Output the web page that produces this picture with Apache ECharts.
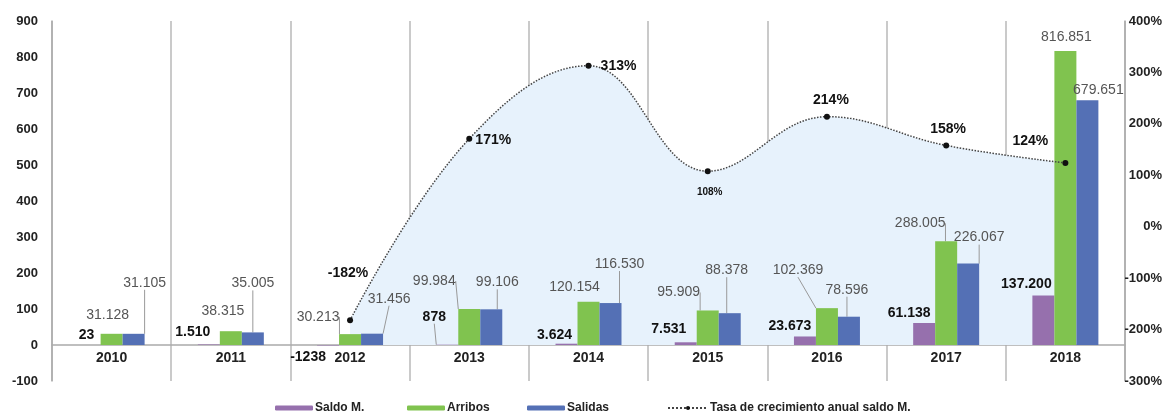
<!DOCTYPE html>
<html>
<head>
<meta charset="utf-8">
<script src="https://cdn.jsdelivr.net/npm/echarts@6/dist/echarts.min.js"></script>
<style>
  html, body { margin: 0; padding: 0; background: #fff; }
  #chart { width: 1165px; height: 416px; }
</style>
</head>
<body>
<div id="chart"></div>
<script>
// datos (miles de personas)
var years = ['2010', '2011', '2012', '2013', '2014', '2015', '2016', '2017', '2018'];
var saldo = [0.023, 1.510, -1.238, 0.878, 3.624, 7.531, 23.673, 61.138, 137.200];
var saldoLabels = ['23', '1.510', '-1238', '878', '3.624', '7.531', '23.673', '61.138', '137.200'];
var arribos = [31.128, 38.315, 30.213, 99.984, 120.154, 95.909, 102.369, 288.005, 816.851];
var salidas = [31.105, 35.005, 31.456, 99.106, 116.530, 88.378, 78.596, 226.067, 679.651];
var tasa = [null, null, -182, 171, 313, 108, 214, 158, 124];
var leftTicks = [-100, 0, 100, 200, 300, 400, 500, 600, 700, 800, 900];
var rightTicks = [-300, -200, -100, 0, 100, 200, 300, 400];
var legendNames = ['Saldo M.', 'Arribos', 'Salidas', 'Tasa de crecimiento anual saldo M.'];

// posiciones de etiquetas (desplazamiento desde el extremo de la barra / punto)
var saldoOff = [[-3, -10], [-16, -12], [-20, 12], [-13, -28], [-12, -9], [-17, -13], [-15, -10], [-15, -10], [-17, -11]];
var saldoLine = [false, false, false, true, false, false, false, false, false];
var arribosOff = [[-4, -19], [-8, -20], [-32, -17], [-35, -28], [-14, -15], [-29, -18], [-29, -38], [-26, -18], [1, -14]];
var arribosLine = [false, false, true, true, false, true, true, true, false];
var salidasOff = [[11, -51], [0, -49], [17, -35], [6, -27], [9, -39], [-3, -43], [-2, -27], [11, -26], [11, -10]];
var salidasLine = [true, true, true, true, true, true, true, true, false];
var tasaOff = [null, null, [-2, -47], [24, 1], [30, 0], [2, 21], [4, -17], [2, -16], [-35, -22]];
var legendLeft = [275, 407, 527, 667];

var FONT = "'Liberation Sans', Arial, sans-serif";
var colors = ['#9670ad', '#80c34f', '#5470b5'];

function items(vals, lines) {
    return vals.map(function (v, i) {
        return { value: v, labelLine: { show: lines[i] } };
    });
}

function barLayout(offs, vals) {
    return function (p) {
        var r = p.rect, o = offs[p.dataIndex];
        var endY = vals[p.dataIndex] >= 0 ? r.y : r.y + r.height;
        return {
            x: r.x + r.width / 2 + o[0],
            y: endY + o[1],
            align: 'center',
            verticalAlign: 'middle'
        };
    };
}

var legends = legendNames.map(function (n, i) {
    return {
        data: [n],
        left: legendLeft[i],
        top: 402,
        padding: 0,
        itemWidth: i === 3 ? 40 : 38,
        itemHeight: 5,
        textStyle: { fontFamily: FONT, fontWeight: 'bold', fontSize: 12, color: '#222', padding: [0, 0, 0, -3] }
    };
});

var myChart = echarts.init(document.getElementById('chart'));
myChart.setOption({
    animation: false,
    textStyle: { fontFamily: FONT },
    grid: { left: 52, right: 38, top: 21, bottom: 35 },
    legend: legends,
    xAxis: {
        type: 'category',
        data: years,
        axisLine: { onZero: true, lineStyle: { color: '#aaa', width: 1.5 } },
        axisTick: { show: false },
        // las etiquetas van justo debajo de la línea del cero
        axisLabel: { margin: -30, fontFamily: FONT, fontWeight: 'bold', fontSize: 14, color: '#222' },
        splitLine: { show: true, lineStyle: { color: '#b8b8b8', width: 1.5 } }
    },
    yAxis: [
        {
            type: 'value',
            min: leftTicks[0],
            max: leftTicks[leftTicks.length - 1],
            interval: 100,
            axisLine: { show: true, onZero: false, lineStyle: { color: '#aaa', width: 1.5 } },
            axisTick: { show: false },
            splitLine: { show: false },
            axisLabel: { margin: 14, fontFamily: FONT, fontWeight: 'bold', fontSize: 13, color: '#222' }
        },
        {
            type: 'value',
            min: rightTicks[0],
            max: rightTicks[rightTicks.length - 1],
            interval: 100,
            position: 'right',
            axisLine: { show: true, onZero: false, lineStyle: { color: '#aaa', width: 1.5 } },
            axisTick: { show: false },
            splitLine: { show: false },
            axisLabel: {
                margin: 37, align: 'right', formatter: '{value}%',
                fontFamily: FONT, fontWeight: 'bold', fontSize: 13, color: '#222'
            }
        }
    ],
    series: [
        {
            name: 'area',
            type: 'line',
            yAxisIndex: 1,
            data: tasa,
            smooth: 0.4,
            symbol: 'none',
            lineStyle: { width: 0 },
            areaStyle: { color: '#e7f2fc', opacity: 1, origin: -230 },
            silent: true,
            z: 1
        },
        {
            name: 'Saldo M.',
            type: 'bar',
            data: items(saldo, saldoLine),
            barWidth: 22,
            barGap: '0%',
            itemStyle: { color: colors[0] },
            label: {
                show: true,
                formatter: function (p) { return saldoLabels[p.dataIndex]; },
                fontFamily: FONT, fontWeight: 'bold', fontSize: 14, color: '#111'
            },
            labelLine: { lineStyle: { color: '#999', width: 1 } },
            labelLayout: barLayout(saldoOff, saldo),
            z: 3
        },
        {
            name: 'Arribos',
            type: 'bar',
            data: items(arribos, arribosLine),
            barWidth: 22,
            barGap: '0%',
            itemStyle: { color: colors[1] },
            label: {
                show: true,
                formatter: function (p) { return arribos[p.dataIndex].toFixed(3); },
                fontFamily: FONT, fontSize: 14, color: '#555'
            },
            labelLine: { lineStyle: { color: '#999', width: 1 } },
            labelLayout: barLayout(arribosOff, arribos),
            z: 3
        },
        {
            name: 'Salidas',
            type: 'bar',
            data: items(salidas, salidasLine),
            barWidth: 22,
            barGap: '0%',
            itemStyle: { color: colors[2] },
            label: {
                show: true,
                formatter: function (p) { return salidas[p.dataIndex].toFixed(3); },
                fontFamily: FONT, fontSize: 14, color: '#555'
            },
            labelLine: { lineStyle: { color: '#999', width: 1 } },
            labelLayout: barLayout(salidasOff, salidas),
            z: 3
        },
        {
            name: 'Tasa de crecimiento anual saldo M.',
            type: 'line',
            yAxisIndex: 1,
            data: tasa,
            smooth: 0.4,
            symbol: 'circle',
            symbolSize: 6,
            itemStyle: { color: '#111' },
            lineStyle: { color: '#444', width: 1.5, type: 'dotted' },
            label: {
                show: true,
                formatter: function (p) { return p.value + '%'; },
                fontFamily: FONT, fontWeight: 'bold', fontSize: 14, color: '#111'
            },
            labelLayout: function (p) {
                var r = p.rect, o = tasaOff[p.dataIndex];
                return {
                    x: r.x + r.width / 2 + o[0],
                    y: r.y + r.height / 2 + o[1],
                    align: 'center',
                    verticalAlign: 'middle',
                    fontSize: p.dataIndex === 5 ? 10 : 14
                };
            },
            z: 4
        }
    ]
});
</script>
</body>
</html>
